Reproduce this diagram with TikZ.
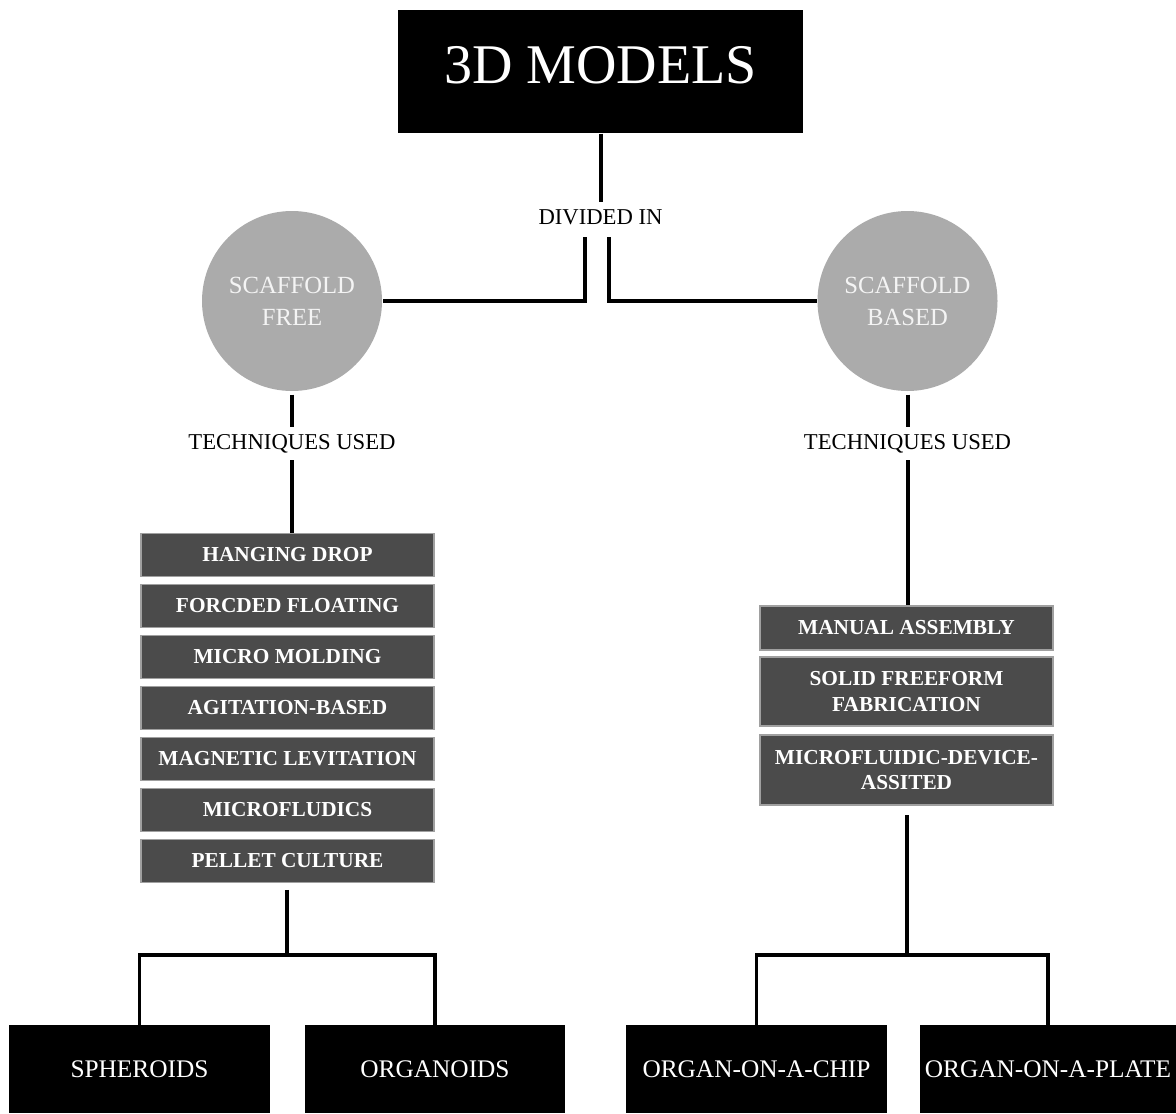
\documentclass[tikz,border=0pt]{standalone}
\usepackage{fontspec}
\setmainfont{Liberation Serif}
\tikzset{every picture/.style={line width=0.75pt}}
\definecolor{circgray}{HTML}{ABABAB}
\definecolor{techgray}{HTML}{4B4B4B}
\definecolor{techedge}{HTML}{A0A0A0}
\definecolor{circtext}{HTML}{F4F4F4}
\tikzset{
  blackbox/.style={fill=black,text=white,inner sep=0pt},
  techbox/.style={fill=techgray,draw=techedge,line width=1pt,text=white,minimum width=219.75pt,inner sep=0pt,align=center,font=\bfseries\fontsize{16}{19}\selectfont},
  scaffold/.style={circle,fill=circgray,text=circtext,minimum size=135pt,inner sep=0pt,align=center,font=\fontsize{18.5}{24}\selectfont},
  linktext/.style={inner sep=5pt,font=\fontsize{17}{20}\selectfont},
  conn/.style={line width=3pt},
  lowconn/.style={line width=2.4pt}
}

\begin{document}
\begin{tikzpicture}[x=0.75pt,y=0.75pt,yscale=-1,xscale=1]
\useasboundingbox (0,0) rectangle (1176,1113);

%Shape: Rectangle
\node [blackbox,minimum width=303.75pt,minimum height=92.25pt,text depth=10pt,font=\fontsize{42}{50}\selectfont] (models) at (600.5,71.5) {3D MODELS};
% Text Node
\node [linktext] (divin) at (600.5,217) {DIVIDED IN};
\coordinate (dl) at (585,237);
\coordinate (dr) at (609,237);

%Shape: Circle
\node [scaffold] (sfree) at (292,301) {SCAFFOLD\\FREE};
%Shape: Circle
\node [scaffold] (sbased) at (907.5,301) {SCAFFOLD\\BASED};

% Text Node
\node [linktext] (tfree) at (292,443.5) {TECHNIQUES USED};
% Text Node
\node [linktext] (tbased) at (907.5,443.5) {TECHNIQUES USED};

%Shape: Rectangle
\foreach \name/\txt [count=\i from 0] in {hang/HANGING DROP, forced/FORCDED FLOATING, molding/MICRO MOLDING, agit/AGITATION-BASED, magnet/MAGNETIC LEVITATION, fludics/MICROFLUDICS, pellet/PELLET CULTURE}
  \node [techbox,minimum height=32.25pt] (\name) at (287.5,{555+51*\i}) {\txt};

%Shape: Rectangle
\node [techbox,minimum height=33pt] (manual) at (906.5,628) {MANUAL ASSEMBLY};
\node [techbox,minimum height=51.75pt] (solid) at (906.5,691.5) {SOLID FREEFORM\\FABRICATION};
\node [techbox,minimum height=52.5pt] (mfd) at (906.5,770) {MICROFLUIDIC-DEVICE-\\ASSITED};

%Shape: Rectangle
\node [blackbox,minimum width=195.75pt,minimum height=66pt,font=\fontsize{19}{23}\selectfont] (spher) at (139.5,1069) {SPHEROIDS};
\node [blackbox,minimum width=195pt,minimum height=66pt,font=\fontsize{19}{23}\selectfont] (organ) at (435,1069) {ORGANOIDS};
\node [blackbox,minimum width=195.75pt,minimum height=66pt,font=\fontsize{19}{23}\selectfont] (chip) at (756.5,1069) {ORGAN-ON-A-CHIP};
\node [blackbox,minimum width=192pt,minimum height=66pt,font=\fontsize{19}{23}\selectfont] (plate) at (1048,1069) {ORGAN-ON-A-PLATE};
\coordinate (jl) at (287,955);
\coordinate (jr) at (907,955);

%Straight Lines
\draw [conn] (models.south) -- (divin.north);
\draw [conn] (dl) |- (sfree.east);
\draw [conn] (dr) |- (sbased.west);
\draw [conn,shorten <=2.25pt] (sfree.south) -- (tfree.north);
\draw [conn,shorten <=2.25pt] (sbased.south) -- (tbased.north);
\draw [conn] (tfree.south) -- (tfree.south |- hang.north);
\draw [conn] (tbased.south) -- (tbased.south |- manual.north);
\draw [conn,shorten <=5pt] (pellet.south -| jl) -- (jl);
\draw [conn,shorten <=7pt] (mfd.south -| jr) -- (jr);
\draw [lowconn] (spher.north) |- (jl) -| (organ.north);
\draw [lowconn] (chip.north) |- (jr) -| (plate.north);

\end{tikzpicture}
\end{document}
